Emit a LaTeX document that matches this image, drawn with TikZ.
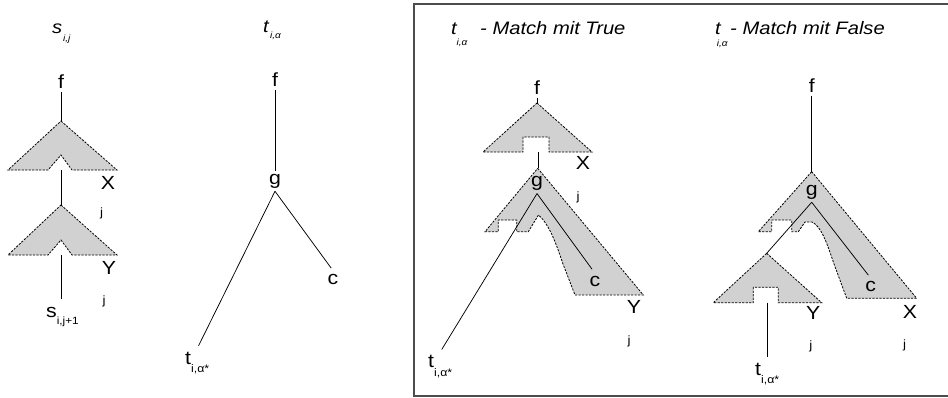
\documentclass[tikz,border=0pt]{standalone}
\usepackage{fontspec}
\setmainfont{Liberation Sans}[FakeStretch=1.12]
\begin{document}
\begin{tikzpicture}[x=1pt,y=-1pt,
  lbl/.style={font=\fontsize{19}{21}\selectfont, inner sep=3pt},
  idx/.style={font=\fontsize{12}{13}\selectfont, inner sep=0pt},
  ttl/.style={font=\fontsize{18}{20}\selectfont\itshape, inner sep=0pt, anchor=base west},
  ttlsub/.style={font=\fontsize{9}{10}\selectfont\itshape, inner sep=0pt, anchor=base west},
  subtree/.style={fill=black!18, draw=black, line width=0.8pt, dash pattern=on 2.2pt off 1.3pt},
  edge/.style={draw=black, line width=0.75pt},
  frame/.style={draw=black!70, line width=1.3pt}]

\useasboundingbox (0,0) rectangle (948,397);

% ---------- s_{i,j} ----------
\path[subtree] (61,121) -- (117,170) -- (72,170) -- (61,155) -- (48,170) -- (8,170) -- cycle;
\path[subtree] (61,205) -- (117,255) -- (72,255) -- (61,240) -- (48,255) -- (8,255) -- cycle;
\node[ttl] (sT) at (52,33) {s};
\node[ttlsub] (sTi) at (63,41) {i,j};
\node[lbl] (f1) at (61,82) {f};
\coordinate (a1) at (61,121);
\coordinate (b1) at (61,170);
\coordinate (a2) at (61,205);
\coordinate (b2) at (61,255);
\node[lbl] (X1) at (108,183) {X};
\node[idx] (jX1) at (101.5,213) {j};
\node[lbl] (Y1) at (109,268) {Y};
\node[idx] (jY1) at (104,301) {j};
\node[lbl, anchor=base west] (s1) at (43,317) {s\raisebox{-7pt}{\fontsize{10.5}{11}\selectfont i,j+1}};
\draw[edge] (f1) -- (a1);
\draw[edge] (b1) -- (a2);
\draw[edge, shorten >=5pt] (b2) -- (b2 |- s1.north);

% ---------- t_{i,alpha} ----------
\node[ttl] (tT2) at (263,32) {t};
\node[ttlsub] (tT2i) at (270,38.5) {i,α};
\node[lbl] (f2) at (275,80) {f};
\node[lbl] (g2) at (275,181) {g};
\node[lbl] (c2) at (333,279) {c};
\node[lbl, anchor=base west] (t2) at (182,364) {t\raisebox{-8.5pt}{\fontsize{11}{12}\selectfont i,α*}};
\draw[edge] (f2) -- (g2);
\draw[edge, shorten >=3pt] (g2.south) -- (c2.north);
\draw[edge, shorten >=3pt] (g2.south) -- (t2.north);

% ---------- frame around the two matches ----------
\draw[frame] (948,4) -- (414,4) -- (414,396) -- (948,396);

% ---------- match with True ----------
\node[ttl] (tT3) at (451,34) {t};
\node[ttlsub] (tT3i) at (456.5,45) {i,α};
\node[ttl] (m3) at (480,34) {- Match mit True};
\path[subtree] (537,103) -- (592,152) -- (549,152) -- (549,137) -- (523,137) -- (523,152) -- (483,152) -- cycle;
\path[subtree] (537.7,168.3) -- (643.3,295) -- (575,295) -- (563,264)
  .. controls (556,243) and (549,224) .. (538.5,215) -- (528.3,231.7) -- (516.7,231.7)
  -- (516.7,220) -- (498.3,220) -- (498.3,231.7) -- (485,231.7) -- cycle;
\node[lbl] (f3) at (537,88) {f};
\node[lbl] (X3) at (583,163) {X};
\node[idx] (jX3) at (578,197) {j};
\node[lbl] (g3) at (537,183.3) {g};
\node[lbl] (c3) at (595,281.7) {c};
\node[lbl] (Y3) at (634,306.7) {Y};
\node[idx] (jY3) at (629,341) {j};
\node[lbl, anchor=base west] (t3) at (425,367.5) {t\raisebox{-8.5pt}{\fontsize{11}{12}\selectfont i,α*}};
\coordinate (aX3) at (537,103);
\coordinate (bX3) at (538,152);
\coordinate (aG3) at (538,168.3);
\draw[edge] (f3) -- (aX3);
\draw[edge] (bX3) -- (aG3);
\draw[edge, shorten >=5pt] (g3.south) -- (c3.north);
\draw[edge, shorten >=3pt] (g3.south) -- (t3.north);

% ---------- match with False ----------
\node[ttl] (tT4) at (715,34) {t};
\node[ttlsub] (tT4i) at (716.7,46) {i,α};
\node[ttl] (m4) at (730,34) {- Match mit False};
\path[subtree] (811.7,171.7) -- (916.7,298.3) -- (846.7,298.3) -- (834,264)
  .. controls (827,243) and (821,226) .. (812,222) -- (805,222) -- (798.3,231.7)
  -- (791.7,231.7) -- (791.7,220) -- (771.7,220) -- (771.7,231.7) -- (758.3,231.7) -- cycle;
\path[subtree] (766.7,253.3) -- (821.7,302.7) -- (778.3,302.7) -- (778.3,287.3) -- (753.3,287.3) -- (753.3,302.7) -- (713.3,302.7) -- cycle;
\node[lbl] (f4) at (811.7,86) {f};
\node[lbl] (g4) at (811.7,192) {g};
\node[lbl] (c4) at (870.8,286.7) {c};
\node[lbl] (Y4) at (813.3,313.3) {Y};
\node[idx] (jY4) at (810.8,346.7) {j};
\node[lbl] (X4) at (910,311.7) {X};
\node[idx] (jX4) at (904.5,345) {j};
\node[lbl, anchor=base west] (t4) at (752,375.5) {t\raisebox{-8pt}{\fontsize{11}{12}\selectfont i,α*}};
\coordinate (aG4) at (811.7,171.7);
\coordinate (aY4) at (766.7,253.3);
\coordinate (bY4) at (767.7,302.7);
\draw[edge] (f4) -- (aG4);
\draw[edge] (g4.south) -- (aY4);
\draw[edge, shorten >=4pt] (g4.south) -- (c4.north);
\draw[edge, shorten >=3pt] (bY4) -- (bY4 |- t4.north);

\end{tikzpicture}
\end{document}
